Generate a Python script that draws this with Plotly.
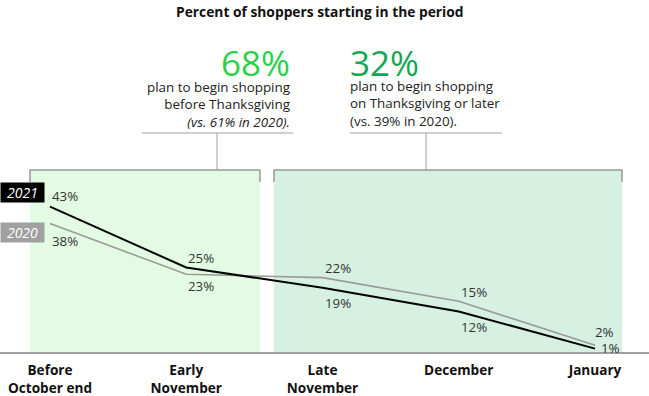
import plotly.graph_objects as go

# ---- data ----
categories = ["Before<br>October end", "Early<br>November", "Late<br>November", "December", "January"]
y2021 = [43, 25, 19, 12, 1]
y2020 = [38, 23, 22, 15, 2]
series_names = ["2021", "2020"]
title_text = "Percent of shoppers starting in the period"
before_pct = "68%"
before_lines = ["plan to begin shopping", "before Thanksgiving", "<i>(vs. 61% in 2020).</i>"]
after_pct = "32%"
after_lines = ["plan to begin shopping", "on Thanksgiving or later", "(vs. 39% in 2020)."]

W, H = 649, 396
B = 44
PH = H - B  # plot-area height in px
PX_PER_PCT = 3.38
FONT = "Open Sans"


def px(x):
    return x / W


def py(y):
    return 1 - y / PH


xs = list(range(len(categories)))
x0 = -50 / 136.25
x1 = x0 + W / 136.25

fig = go.Figure()
fig.add_trace(go.Scatter(x=xs, y=y2020, mode="lines", line=dict(color="#9a9a9a", width=1.6),
                         name=series_names[1], hoverinfo="skip"))
fig.add_trace(go.Scatter(x=xs, y=y2021, mode="lines", line=dict(color="#000000", width=2),
                         name=series_names[0], hoverinfo="skip"))

shapes = []
# shaded period boxes
for (a, b, col) in [(-0.147, 1.541, "rgb(226,251,226)"), (1.644, 4.198, "rgb(214,240,226)")]:
    shapes.append(dict(type="rect", xref="x", yref="paper", x0=a, x1=b, y0=0, y1=py(170),
                       fillcolor=col, line_width=0, layer="below"))
    shapes.append(dict(type="path", xref="x", yref="paper",
                       path=f"M {a},{py(182)} L {a},{py(170)} L {b},{py(170)} L {b},{py(182)}",
                       line=dict(color="#999999", width=1.5), layer="above"))
# connector brackets
for (l, r, c) in [(142, 293, 217), (350, 502, 426)]:
    shapes.append(dict(type="line", xref="paper", yref="paper", x0=px(l), x1=px(r), y0=py(133), y1=py(133),
                       line=dict(color="#a0a0a0", width=1)))
    shapes.append(dict(type="line", xref="paper", yref="paper", x0=px(c), x1=px(c), y0=py(133), y1=py(170),
                       line=dict(color="#a0a0a0", width=1)))

ann = []
# title
ann.append(dict(text="<b>" + title_text + "</b>", xref="paper", yref="paper", x=px(320), y=py(12),
                xanchor="center", yanchor="middle", showarrow=False,
                font=dict(family=FONT, size=13.8, color="#111111")))
# big annotations
ann.append(dict(text=before_pct, xref="paper", yref="paper", x=px(291), y=py(62), xanchor="right",
                yanchor="middle", showarrow=False, borderpad=0,
                font=dict(family=FONT, size=35, color="#2bd04b")))
ann.append(dict(text=after_pct, xref="paper", yref="paper", x=px(349), y=py(62), xanchor="left",
                yanchor="middle", showarrow=False, borderpad=0,
                font=dict(family=FONT, size=35, color="#14a851")))
ann.append(dict(text="<br>".join(before_lines), xref="paper", yref="paper", x=px(291), y=py(104.5),
                xanchor="right", yanchor="middle", align="right", showarrow=False, borderpad=0,
                font=dict(family=FONT, size=13.4, color="#222222")))
ann.append(dict(text="<br>".join(after_lines), xref="paper", yref="paper", x=px(349), y=py(104),
                xanchor="left", yanchor="middle", align="left", showarrow=False, borderpad=0,
                font=dict(family=FONT, size=13.4, color="#222222")))

# series badges
for name, yc, bg in [(series_names[0], 192, "#000000"), (series_names[1], 232.5, "#a0a0a0")]:
    ann.append(dict(text="<i>" + name + "</i>", xref="paper", yref="paper", x=0, y=py(yc),
                    xanchor="left", yanchor="middle", showarrow=False, bgcolor=bg,
                    width=41, height=17, borderpad=1, align="center",
                    font=dict(family=FONT, size=14, color="#ffffff")))

# value labels
shift21 = [(1, 11), (1, 10), (1, -15), (1, -16), (5, 1)]
shift20 = [(1, -17), (1, -12), (1, 10), (1, 9), (-1, 13)]
for vals, shifts in [(y2021, shift21), (y2020, shift20)]:
    for i, v in enumerate(vals):
        ann.append(dict(text=f"{v}%", x=xs[i], y=v, xref="x", yref="y", xanchor="left", yanchor="middle",
                        xshift=shifts[i][0], yshift=shifts[i][1], showarrow=False, borderpad=0,
                        font=dict(family=FONT, size=13.3, color="#333333")))

fig.update_layout(
    width=W, height=H, margin=dict(l=0, r=0, t=0, b=B),
    paper_bgcolor="white", plot_bgcolor="rgba(0,0,0,0)",
    showlegend=False, shapes=shapes, annotations=ann,
    xaxis=dict(range=[x0, x1], tickvals=xs, ticktext=categories, showgrid=False, zeroline=False,
               showline=True, linecolor="#a0a0a0", linewidth=2, ticks="", ticklabelstandoff=5,
               tickfont=dict(family=FONT, size=13.6, color="#111111", weight=700), fixedrange=True),
    yaxis=dict(range=[0, PH / PX_PER_PCT], visible=False, showgrid=False, zeroline=False, fixedrange=True),
)

fig.write_html("out.html", config={"displayModeBar": False},
               post_script="document.body.style.margin='0';document.body.style.overflow='hidden';")
